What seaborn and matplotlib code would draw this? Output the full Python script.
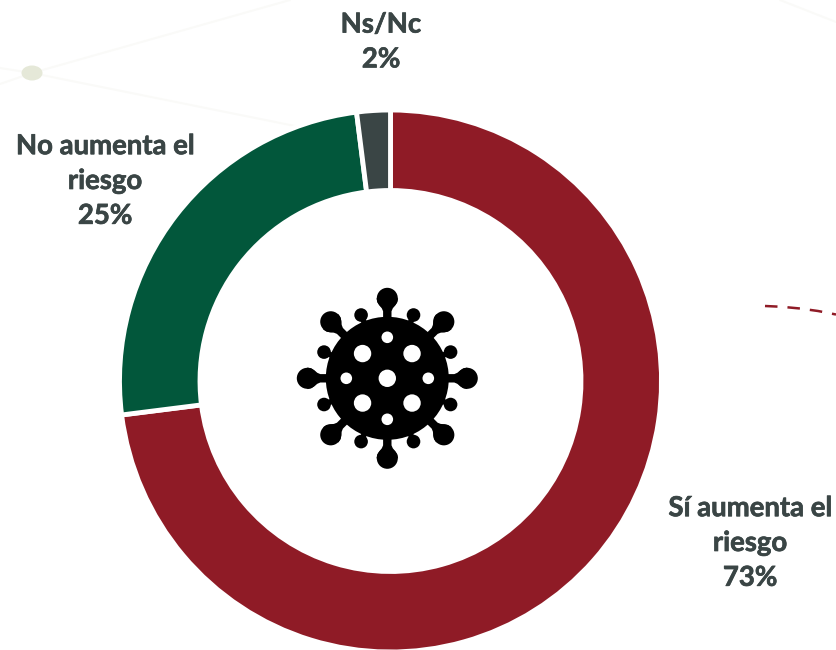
import numpy as np
import matplotlib
matplotlib.use('Agg')
import matplotlib.pyplot as plt
import matplotlib.patheffects as pe
from matplotlib.patches import Circle, Ellipse, Polygon
import seaborn as sns

# datos
categorias = ['Sí aumenta el\nriesgo', 'No aumenta el\nriesgo', 'Ns/Nc']
valores = [73, 25, 2]
colores = ['#8F1B26', '#02573B', '#3A4545']
color_texto = '#3A4545'

sns.set_theme(style='white')
plt.rcParams['font.family'] = ['Lato', 'DejaVu Sans']

W, H = 836, 650
fig = plt.figure(figsize=(W / 100, H / 100), dpi=100)
ax = fig.add_axes([0, 0, 1, 1])


def py(y):
    # la imagen se mide desde arriba
    return H - y


# fondo: lineas muy tenues y punto
for xs, ys in [([0, 32, 290], [84, 73, 0]), ([0, 32, 300], [68, 73, 127]), ([780, 836], [0, 22])]:
    ax.plot(xs, [py(v) for v in ys], color='#FAFAF8', lw=1.5, zorder=0)
ax.add_patch(Ellipse((32, py(73)), 21, 15, color='#E5E8D8', lw=0, zorder=1))

# linea punteada roja a la derecha
tx = np.array([765, 782, 800, 818, 836])
ty = np.array([306, 306.8, 308.5, 311, 314.5])
ax.plot(tx, py(ty), color='#8F1B26', lw=1.8, dashes=(5, 4), zorder=1)

# anillo
ax.pie(valores, colors=sns.color_palette(colores), startangle=90, counterclock=False,
       center=(390.5, py(381)), radius=271, frame=True,
       wedgeprops=dict(width=80.5, edgecolor='white', linewidth=3.5))

# etiquetas
pos_texto = [(750, 543), (105, 181), (381, 42)]
for nom, val, (x, y) in zip(categorias, valores, pos_texto):
    ax.text(x, py(y), f'{nom}\n{val}%', ha='center', va='center', color=color_texto,
            fontsize=19.8, fontweight='bold', linespacing=1.42, zorder=5,
            path_effects=[pe.withStroke(linewidth=0.5, foreground=color_texto)])

# icono del virus
cx, cy = 387.3, py(378.3)
c = np.array([cx, cy])
ax.add_patch(Circle((cx, cy), 61.5, color='black', lw=0, zorder=6))
for a in np.arange(0, 360, 45):
    t = np.radians(a)
    u = np.array([np.cos(t), np.sin(t)])
    n = np.array([-u[1], u[0]])
    # espiga grande: tallo que se abre hacia la cabeza
    perfil = [(55, 4.2), (67, 4.2), (70, 5.5), (73, 8), (76, 10), (80, 10.8)]
    pts = [c + u * r + n * w for r, w in perfil] + [c + u * r - n * w for r, w in perfil[::-1]]
    ax.add_patch(Polygon(pts, closed=True, color='black', lw=0, zorder=6))
    ax.add_patch(Circle(c + u * 80, 10.5, color='black', lw=0, zorder=6))
    # espiga chica
    t2 = np.radians(a + 22.5)
    u2 = np.array([np.cos(t2), np.sin(t2)])
    ax.plot(*zip(c + u2 * 55, c + u2 * 68), color='black', lw=4, zorder=6)
    ax.add_patch(Circle(c + u2 * 68.5, 6.8, color='black', lw=0, zorder=6))
    # huecos
    ax.add_patch(Circle(c + u * (41 if a % 90 == 0 else 35),
                        5.8 if a % 90 == 0 else 8.7, color='white', lw=0, zorder=7))
ax.add_patch(Circle((cx, cy), 8.7, color='white', lw=0, zorder=7))

ax.set_xlim(0, W)
ax.set_ylim(0, H)
ax.set_aspect('equal')
ax.axis('off')
fig.savefig('out.png', dpi=100, facecolor='white')
